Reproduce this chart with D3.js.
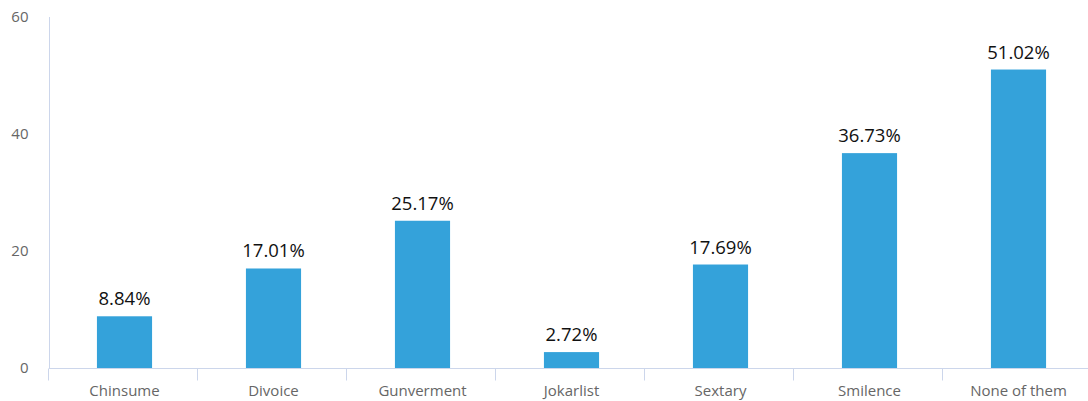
<!DOCTYPE html>
<html>
<head>
<meta charset="utf-8">
<script src="https://cdn.jsdelivr.net/npm/d3@7/dist/d3.min.js"></script>
<style>
  html, body { margin: 0; padding: 0; background: #fff; }
  svg { display: block; font-family: "Open Sans", "DejaVu Sans", sans-serif; }
</style>
</head>
<body>
<svg id="chart" width="1088" height="401"></svg>
<script>
// Survey answers and their share of respondents (%)
const categories = ["Chinsume", "Divoice", "Gunverment", "Jokarlist", "Sextary", "Smilence", "None of them"];
const values = [8.84, 17.01, 25.17, 2.72, 17.69, 36.73, 51.02];
const yTicks = [0, 20, 40, 60];

const svg = d3.select("#chart");
const axisColor = "#ccd6eb";
const barColor = "#34a2da";

const x = d3.scaleBand()
  .domain(categories)
  .range([50, 1093])
  .paddingInner(0.63)
  .paddingOuter(0.315);

const y = d3.scaleLinear()
  .domain([0, 60])
  .range([368, 17]);

// Bars
svg.append("g")
  .selectAll("rect")
  .data(values)
  .join("rect")
  .attr("x", (d, i) => x(categories[i]))
  .attr("y", d => y(d))
  .attr("width", x.bandwidth())
  .attr("height", d => y(0) - y(d))
  .attr("fill", barColor);

// Value labels
svg.append("g")
  .selectAll("text")
  .data(values)
  .join("text")
  .attr("x", (d, i) => x(categories[i]) + x.bandwidth() / 2)
  .attr("y", d => y(d) - 11)
  .attr("text-anchor", "middle")
  .attr("font-size", 18.5)
  .attr("fill", "#111")
  .text(d => d.toFixed(2) + "%");

// Y axis
const yAxis = svg.append("g")
  .attr("transform", "translate(49.5,0)")
  .call(d3.axisLeft(y).tickValues(yTicks).tickSize(0).tickPadding(21).tickFormat(d3.format("d")));
yAxis.select(".domain").attr("stroke", axisColor).attr("d", `M0,${y(60)}V${y(0)}`);
yAxis.selectAll("text").attr("fill", "#666").attr("font-size", 15).attr("font-family", "Open Sans, DejaVu Sans, sans-serif");

// X axis with boundary ticks between categories
const xAxis = svg.append("g")
  .attr("transform", `translate(0,${y(0) + 0.5})`);
xAxis.append("line")
  .attr("x1", 49).attr("x2", 1088)
  .attr("stroke", axisColor);
const step = x.step();
const bounds = d3.range(categories.length + 1).map(i => 50 + i * step);
xAxis.selectAll("line.tick")
  .data(bounds)
  .join("line")
  .attr("class", "tick")
  .attr("x1", d => Math.round(d) - 1.5).attr("x2", d => Math.round(d) - 1.5)
  .attr("y1", 0).attr("y2", 12)
  .attr("stroke", axisColor);
xAxis.selectAll("text")
  .data(categories)
  .join("text")
  .attr("x", d => x(d) + x.bandwidth() / 2)
  .attr("y", 27)
  .attr("text-anchor", "middle")
  .attr("font-size", 15)
  .attr("fill", "#666")
  .text(d => d);
</script>
</body>
</html>
